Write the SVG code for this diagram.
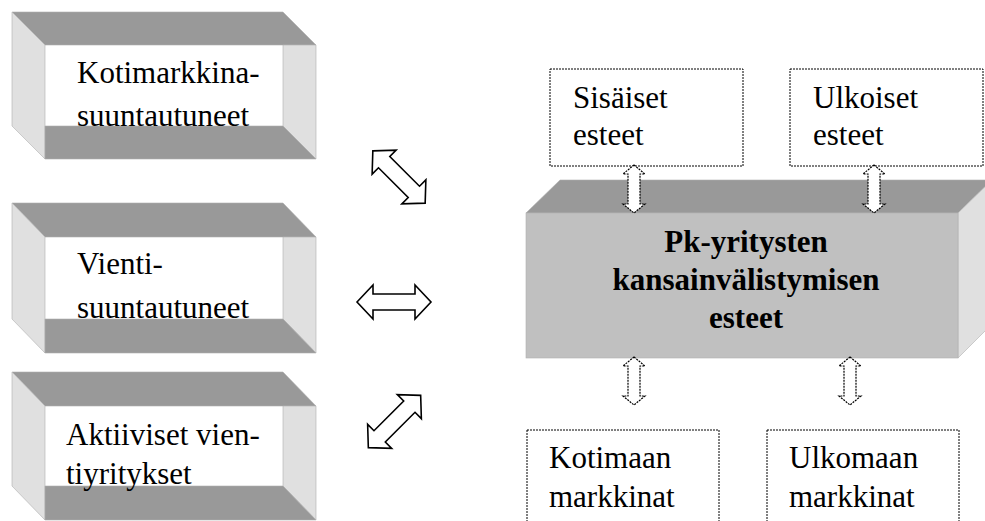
<svg xmlns="http://www.w3.org/2000/svg" width="985" height="521" viewBox="0 0 985 521">
<defs>
<style>
.dark{fill:#999999;stroke:#b0b0b0;stroke-width:0.6}
.light{fill:#e0e0e0;stroke:#b0b0b0;stroke-width:0.6}
.front{fill:#ffffff}
.mainfront{fill:#c0c0c0;stroke:#b0b0b0;stroke-width:0.6}
text{font-family:'Liberation Serif','Tinos','DejaVu Serif',serif;font-size:31px;fill:#000}
.tb{font-weight:bold;text-anchor:middle}
.dbox{fill:#ffffff;stroke:#000;stroke-width:1;stroke-dasharray:2,1}
.arr{fill:#ffffff;stroke:#000;stroke-width:1.6;stroke-linejoin:miter}
.varr{fill:#ffffff;stroke:#000;stroke-width:1.2;stroke-dasharray:2,1}
</style>
<path id="harrow" d="M-37,0 L-21,-17 L-21,-8 L21,-8 L21,-17 L37,0 L21,17 L21,8 L-21,8 L-21,17 Z"/>
<path id="varrow" d="M0,-24 L11,-15 L6,-15 L6,15 L11,15 L0,24 L-11,15 L-6,15 L-6,-15 L-11,-15 Z"/>
</defs>
<rect width="985" height="521" fill="#ffffff"/>

<g id="node-kotimarkkina">
<rect class="front" x="45" y="45" width="238" height="81"/>
<polygon class="dark" points="12,12 283,12 316,45 45,45"/>
<polygon class="light" points="12,12 45,45 45,159 12,126"/>
<polygon class="light" points="283,45 316,45 316,159 283,126"/>
<polygon class="dark" points="45,126 283,126 316,159 45,159"/>
<text font-family="Liberation Serif, serif" x="77" y="83">Kotimarkkina-</text>
<text font-family="Liberation Serif, serif" x="77" y="126">suuntautuneet</text>
</g>

<g id="node-vienti">
<rect class="front" x="45" y="237" width="238" height="82"/>
<polygon class="dark" points="12,203 283,203 316,237 45,237"/>
<polygon class="light" points="12,203 45,237 45,353 12,319"/>
<polygon class="light" points="283,237 316,237 316,353 283,319"/>
<polygon class="dark" points="45,319 283,319 316,353 45,353"/>
<text x="77" y="274">Vienti-</text>
<text x="77" y="318">suuntautuneet</text>
</g>

<g id="node-aktiiviset">
<rect class="front" x="45" y="406" width="238" height="80"/>
<polygon class="dark" points="12,372 283,372 316,406 45,406"/>
<polygon class="light" points="12,372 45,406 45,520 12,486"/>
<polygon class="light" points="283,406 316,406 316,520 283,486"/>
<polygon class="dark" points="45,486 283,486 316,520 45,520"/>
<text x="66" y="445">Aktiiviset vien-</text>
<text x="66" y="484">tiyritykset</text>
</g>

<g id="node-main">
<polygon class="dark" points="526,213 560,180 992,180 958,213"/>
<polygon class="light" points="958,213 992,180 992,324 958,358"/>
<rect class="mainfront" x="526" y="213" width="432" height="145"/>
<text class="tb" x="746" y="252">Pk-yritysten</text>
<text class="tb" x="746" y="290">kansainvälistymisen</text>
<text class="tb" x="746" y="328">esteet</text>
</g>

<g id="node-sisaiset">
<rect class="dbox" x="550" y="69" width="193" height="97"/>
<text x="573" y="108">Sisäiset</text>
<text x="573" y="145">esteet</text>
</g>

<g id="node-ulkoiset">
<rect class="dbox" x="790" y="69" width="193" height="97"/>
<text x="813" y="108">Ulkoiset</text>
<text x="813" y="145">esteet</text>
</g>

<g id="node-kotimaan">
<rect class="dbox" x="527" y="430" width="192" height="100"/>
<text x="549" y="468">Kotimaan</text>
<text x="549" y="507">markkinat</text>
</g>

<g id="node-ulkomaan">
<rect class="dbox" x="767" y="430" width="192" height="100"/>
<text x="789" y="468">Ulkomaan</text>
<text x="789" y="507">markkinat</text>
</g>

<g id="connectors">
<use href="#harrow" class="arr" transform="translate(399,177) rotate(45)"/>
<use href="#harrow" class="arr" transform="translate(394,302)"/>
<use href="#harrow" class="arr" transform="translate(394.5,421.5) rotate(-45)"/>
<use href="#varrow" class="varr" transform="translate(634,189)"/>
<use href="#varrow" class="varr" transform="translate(874,189)"/>
<use href="#varrow" class="varr" transform="translate(634,381)"/>
<use href="#varrow" class="varr" transform="translate(850,381)"/>
</g>
</svg>
